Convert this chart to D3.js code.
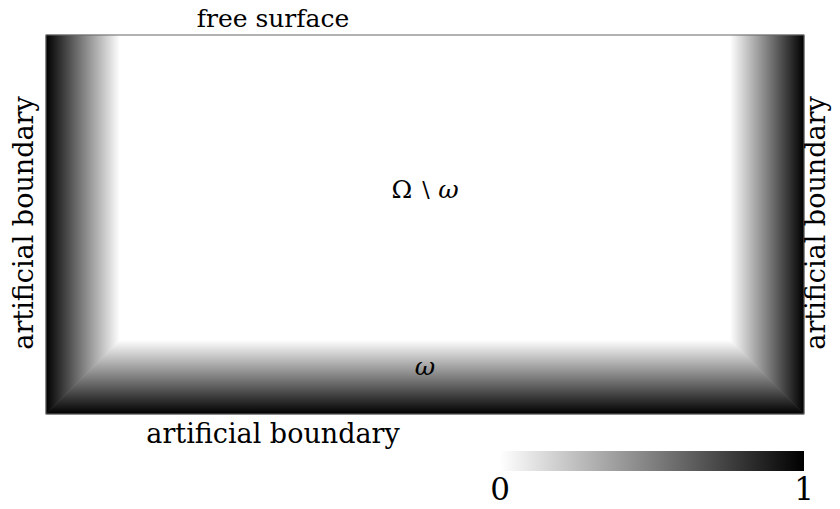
<!DOCTYPE html>
<html>
<head>
<meta charset="utf-8">
<script src="https://cdn.jsdelivr.net/npm/d3@7"></script>
<style>
  html, body { margin: 0; padding: 0; background: #fff; }
</style>
</head>
<body>
<script>
// computational box (depth grows downward from the free surface)
var boxX = [0, 20.5];
var boxY = [0, 10.25];
var layerThickness = 2;
// absorption values along a layer, 0 at the inner edge and 1 at the artificial boundary
var absorptionStops = [0, 0.25, 0.5, 0.75, 1];
var colorbarTicks = [0, 1];
var sideLabels = ['free surface', 'artificial boundary', 'artificial boundary', 'artificial boundary'];

var serif = "'DejaVu Serif', serif";
var width = 840, height = 509;
var svg = d3.select('body').append('svg').attr('width', width).attr('height', height)
  .style('font-family', serif);
var defs = svg.append('defs');

var x = d3.scaleLinear().domain(boxX).range([46, 804]);
var y = d3.scaleLinear().domain(boxY).range([35, 414]);
var gray = d3.scaleLinear().domain([0, 1]).range(['#ffffff', '#000000']);

/** adds a gradient that runs from value 0 at (x1,y1) to value 1 at (x2,y2) */
function gradient(id, x1, y1, x2, y2) {
  var g = defs.append('linearGradient').attr('id', id)
    .attr('gradientUnits', 'userSpaceOnUse')
    .attr('x1', x1).attr('y1', y1).attr('x2', x2).attr('y2', y2);
  g.selectAll('stop').data(absorptionStops).enter().append('stop')
    .attr('offset', function (d) { return d; })
    .attr('stop-color', function (d) { return gray(d); });
}

var x0 = boxX[0], x1 = boxX[1], y0 = boxY[0], y1 = boxY[1], L = layerThickness;

// the three absorbing layers, mitred at the bottom corners
var layers = [
  { id: 'pml-left',   pts: [[x0, y0], [x0 + L, y0], [x0 + L, y1 - L], [x0, y1]], from: [x0 + L, y0], to: [x0, y0] },
  { id: 'pml-right',  pts: [[x1, y0], [x1 - L, y0], [x1 - L, y1 - L], [x1, y1]], from: [x1 - L, y0], to: [x1, y0] },
  { id: 'pml-bottom', pts: [[x0, y1], [x0 + L, y1 - L], [x1 - L, y1 - L], [x1, y1]], from: [x0, y1 - L], to: [x0, y1] }
];

layers.forEach(function (l) {
  gradient(l.id, x(l.from[0]), y(l.from[1]), x(l.to[0]), y(l.to[1]));
});

// white interior
svg.append('rect')
  .attr('x', x(x0)).attr('y', y(y0))
  .attr('width', x(x1) - x(x0)).attr('height', y(y1) - y(y0))
  .attr('fill', '#fff');

svg.append('g').selectAll('polygon').data(layers).enter().append('polygon')
  .attr('points', function (d) {
    return d.pts.map(function (p) { return x(p[0]) + ',' + y(p[1]); }).join(' ');
  })
  .attr('fill', function (d) { return 'url(#' + d.id + ')'; })
  .attr('stroke', function (d) { return 'url(#' + d.id + ')'; })
  .attr('stroke-width', 0.6);

// frame
svg.append('rect')
  .attr('x', x(x0)).attr('y', y(y0))
  .attr('width', x(x1) - x(x0)).attr('height', y(y1) - y(y0))
  .attr('fill', 'none').attr('stroke', '#666').attr('stroke-width', 1);

// boundary labels
svg.append('text').attr('x', 273).attr('y', 27).attr('text-anchor', 'middle')
  .attr('font-size', 25).text(sideLabels[0]);
svg.append('text').attr('x', 273).attr('y', 443).attr('text-anchor', 'middle')
  .attr('font-size', 27).text(sideLabels[1]);
svg.append('text').attr('transform', 'translate(33,223) rotate(-90)').attr('text-anchor', 'middle')
  .attr('font-size', 27).text(sideLabels[2]);
svg.append('text').attr('transform', 'translate(825,223) rotate(-90)').attr('text-anchor', 'middle')
  .attr('font-size', 27).text(sideLabels[3]);

// region labels
var inner = svg.append('text').attr('x', x((x0 + x1) / 2)).attr('y', 198)
  .attr('text-anchor', 'middle').attr('font-size', 25);
inner.append('tspan').text('Ω');
inner.append('tspan').attr('font-size', 22).attr('dx', 6).text('∖');
inner.append('tspan').attr('font-style', 'italic').attr('dx', 6).text('ω');

svg.append('text').attr('x', x((x0 + x1) / 2)).attr('y', 375)
  .attr('text-anchor', 'middle').attr('font-size', 25).attr('font-style', 'italic').text('ω');

// colorbar
var cx = d3.scaleLinear().domain([0, 1]).range([500, 804]);
gradient('cbar', cx(0), 0, cx(1), 0);
svg.append('rect')
  .attr('x', cx(0)).attr('y', 451).attr('width', cx(1) - cx(0)).attr('height', 20)
  .attr('fill', 'url(#cbar)');
svg.append('g').selectAll('text').data(colorbarTicks).enter().append('text')
  .attr('x', function (d) { return cx(d); }).attr('y', 500)
  .attr('text-anchor', 'middle').attr('font-size', 31)
  .text(function (d) { return d; });
</script>
</body>
</html>
